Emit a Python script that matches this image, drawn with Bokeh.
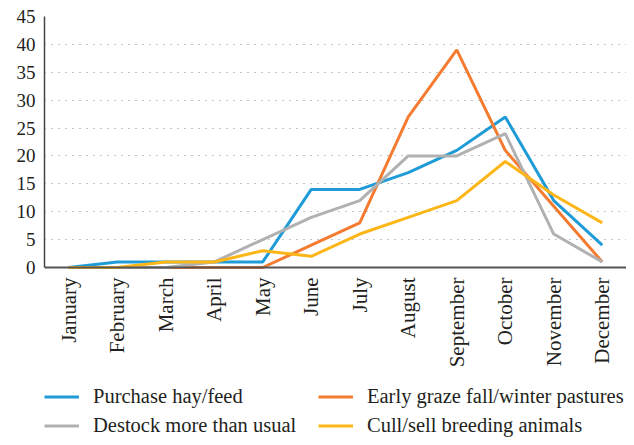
import math
from bokeh.plotting import figure
from bokeh.models import FactorRange, Range1d, FixedTicker, Legend, LegendItem
from bokeh.embed import file_html
from bokeh.resources import INLINE

months = ["January", "February", "March", "April", "May", "June", "July",
          "August", "September", "October", "November", "December"]
purchase_hay = [0, 1, 1, 1, 1, 14, 14, 17, 21, 27, 12, 4]
early_graze = [0, 0, 0, 0, 0, 4, 8, 27, 39, 21, 11, 1]
destock = [0, 0, 0, 1, 5, 9, 12, 20, 20, 24, 6, 1]
cull_sell = [0, 0, 1, 1, 3, 2, 6, 9, 12, 19, 13, 8]
y_ticks = [0, 5, 10, 15, 20, 25, 30, 35, 40, 45]

FONT = "Liberation Serif"
TXT = "#231f20"

# layout (pixels): figure 626x437, plot area top at 16, zero line at 267
W, H, LEFT, TOP, ZERO_PX = 626, 437, 44, 16, 267
Y_MAX = 45
Y_MIN = -Y_MAX * (H - ZERO_PX) / (ZERO_PX - TOP)  # room below zero for labels + legend

p = figure(width=W, height=H, x_range=FactorRange(*months, range_padding=0),
           y_range=Range1d(Y_MIN, Y_MAX), output_backend="svg", toolbar_location=None,
           min_border_left=LEFT, min_border_right=0, min_border_top=TOP, min_border_bottom=0)
p.outline_line_color = None
p.xgrid.grid_line_color = None
p.ygrid.grid_line_color = "#8a8a8a"
p.ygrid.grid_line_dash = "1 6"
p.ygrid.grid_line_width = 1.2
p.yaxis.ticker = FixedTicker(ticks=y_ticks)
p.yaxis.bounds = (0, Y_MAX)

for ax in (p.xaxis, p.yaxis):
    ax.major_tick_line_color = None
    ax.minor_tick_line_color = None
    ax.major_tick_out = 0
    ax.major_tick_in = 0
    ax.major_label_text_font = FONT
    ax.major_label_text_color = TXT
p.yaxis.major_label_standoff = 9
p.yaxis.axis_line_color = "#444444"
p.yaxis.axis_line_width = 1.5
p.yaxis.major_label_text_font_size = "19px"
p.xaxis.fixed_location = 0
p.xaxis.major_label_standoff = 10
p.xaxis.axis_line_color = "#555555"
p.xaxis.axis_line_width = 2
p.xaxis.major_label_text_font_size = "21px"
p.xaxis.major_label_orientation = math.pi / 2

r1 = p.line(months, purchase_hay, line_color="#1f9bd7", line_width=3)
r2 = p.line(months, early_graze, line_color="#f47b2f", line_width=3)
r3 = p.line(months, destock, line_color="#b1b1b1", line_width=3)
r4 = p.line(months, cull_sell, line_color="#fdb618", line_width=3)

legend = Legend(items=[LegendItem(label="Purchase hay/feed", renderers=[r1]),
                       LegendItem(label="Early graze fall/winter pastures", renderers=[r2]),
                       LegendItem(label="Destock more than usual", renderers=[r3]),
                       LegendItem(label="Cull/sell breeding animals", renderers=[r4])],
                ncols=2, orientation="horizontal", location=(0, 0),
                padding=0, margin=0, border_line_color=None,
                background_fill_alpha=0, glyph_width=35, glyph_height=23,
                label_height=23, label_width=219, spacing=6, label_standoff=14,
                label_text_font=FONT, label_text_font_size="20.5px",
                label_text_color=TXT)
p.add_layout(legend, "center")

open("out.html", "w").write(file_html(p, INLINE))
